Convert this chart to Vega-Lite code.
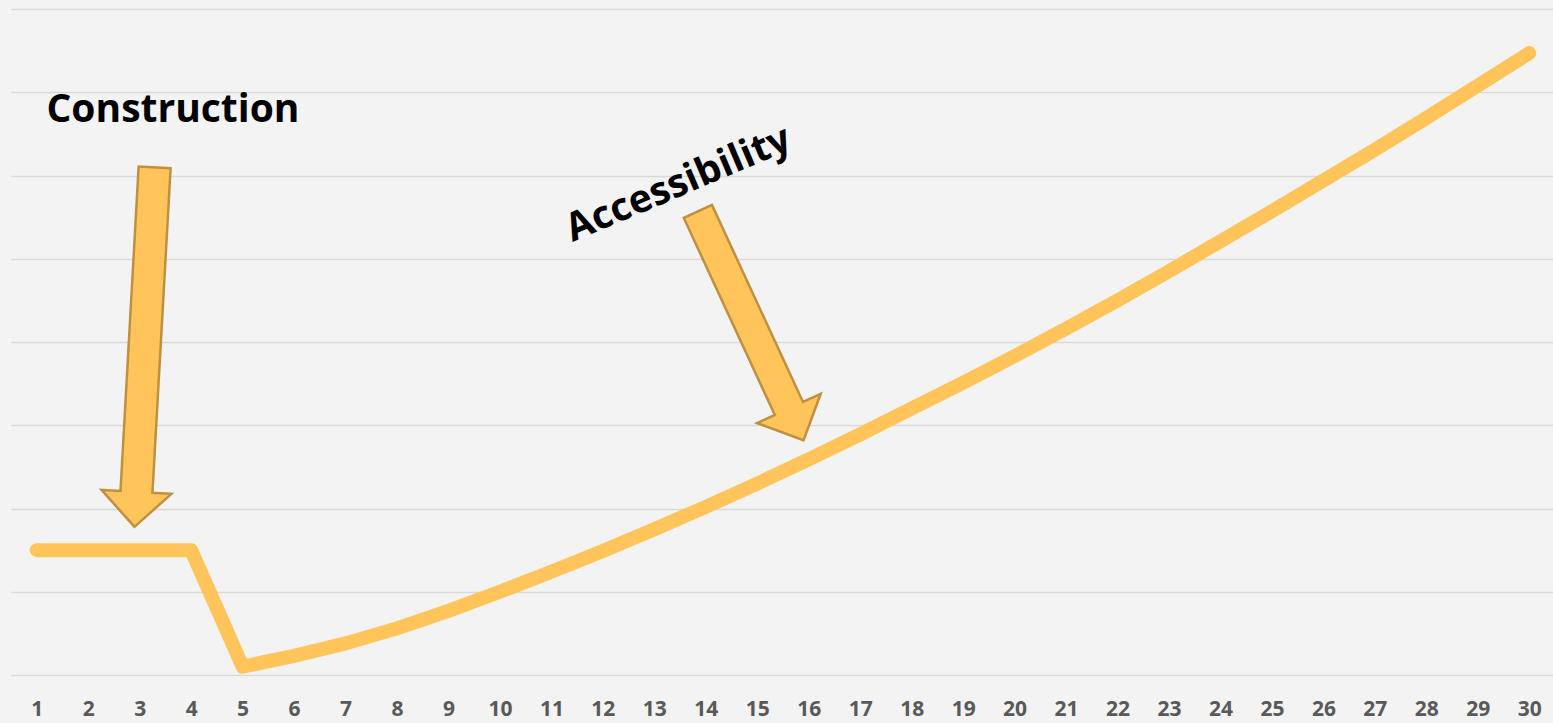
{
  "$schema": "https://vega.github.io/schema/vega-lite/v6.json",
  "width": 1544,
  "height": 666,
  "autosize": {"type": "none"},
  "padding": {"left": 11, "top": 9, "right": 0, "bottom": 48},
  "background": "#f3f3f3",
  "config": {
    "view": {"stroke": null},
    "font": "Open Sans"
  },
  "datasets": {
    "series": [
      {"period": 1, "value": 15.0},
      {"period": 2, "value": 15.0},
      {"period": 3, "value": 15.0},
      {"period": 4, "value": 15.0},
      {"period": 5, "value": 1.0},
      {"period": 6, "value": 2.3},
      {"period": 7, "value": 3.8},
      {"period": 8, "value": 5.6},
      {"period": 9, "value": 7.7},
      {"period": 10, "value": 10.0},
      {"period": 11, "value": 12.4},
      {"period": 12, "value": 14.9},
      {"period": 13, "value": 17.5},
      {"period": 14, "value": 20.2},
      {"period": 15, "value": 23.0},
      {"period": 16, "value": 25.9},
      {"period": 17, "value": 28.9},
      {"period": 18, "value": 32.0},
      {"period": 19, "value": 35.1},
      {"period": 20, "value": 38.3},
      {"period": 21, "value": 41.6},
      {"period": 22, "value": 45.0},
      {"period": 23, "value": 48.5},
      {"period": 24, "value": 52.1},
      {"period": 25, "value": 55.7},
      {"period": 26, "value": 59.4},
      {"period": 27, "value": 63.1},
      {"period": 28, "value": 66.9},
      {"period": 29, "value": 70.8},
      {"period": 30, "value": 74.7}
    ],
    "labels": [
      {"label": "Construction", "period": 1.19, "value": 66.4},
      {"label": "Accessibility", "period": 11.41, "value": 52.0}
    ],
    "pointers": [
      {"label": "Construction", "period": 2.9, "value": 17.8},
      {"label": "Accessibility", "period": 15.9, "value": 28.2}
    ]
  },
  "encoding": {
    "x": {
      "field": "period",
      "type": "quantitative",
      "scale": {"domain": [0.5, 30.5], "nice": false, "zero": false},
      "axis": {
        "title": null,
        "values": [1,2,3,4,5,6,7,8,9,10,11,12,13,14,15,16,17,18,19,20,21,22,23,24,25,26,27,28,29,30],
        "format": "d",
        "grid": false,
        "ticks": false,
        "domain": false,
        "labelFont": "Open Sans",
        "labelFontWeight": "bold",
        "labelFontSize": 21,
        "labelColor": "#595959",
        "labelPadding": 23,
        "labelOverlap": false
      }
    },
    "y": {
      "field": "value",
      "type": "quantitative",
      "scale": {"domain": [0, 80], "nice": false},
      "axis": {
        "title": null,
        "values": [0, 10, 20, 30, 40, 50, 60, 70, 80],
        "labels": false,
        "ticks": false,
        "domain": false,
        "grid": true,
        "gridColor": "#d9d9d9",
        "gridWidth": 1.5
      }
    }
  },
  "layer": [
    {
      "data": {"name": "series"},
      "mark": {
        "type": "line",
        "color": "#ffc55b",
        "strokeWidth": 14,
        "strokeCap": "round",
        "strokeJoin": "round"
      }
    },
    {
      "data": {"name": "pointers"},
      "transform": [{"filter": "datum.label === 'Construction'"}],
      "mark": {
        "type": "point",
        "shape": "M0,0L-0.35,-0.35L-0.16,-0.35L-0.16,-3.6L0.16,-3.6L0.16,-0.35L0.35,-0.35Z",
        "size": 40000,
        "angle": 3.2,
        "filled": true,
        "fill": "#ffc55b",
        "stroke": "#bf9040",
        "strokeWidth": 2.5,
        "opacity": 1
      }
    },
    {
      "data": {"name": "pointers"},
      "transform": [{"filter": "datum.label === 'Accessibility'"}],
      "mark": {
        "type": "point",
        "shape": "M0,0L-0.35,-0.35L-0.155,-0.35L-0.155,-2.52L0.155,-2.52L0.155,-0.35L0.35,-0.35Z",
        "size": 40000,
        "angle": 335.2,
        "filled": true,
        "fill": "#ffc55b",
        "stroke": "#bf9040",
        "strokeWidth": 2.5,
        "opacity": 1
      }
    },
    {
      "data": {"name": "labels"},
      "transform": [{"filter": "datum.label === 'Construction'"}],
      "mark": {
        "type": "text",
        "align": "left",
        "baseline": "alphabetic",
        "font": "Open Sans",
        "fontWeight": "bold",
        "fontSize": 39,
        "color": "#000000"
      },
      "encoding": {"text": {"field": "label"}}
    },
    {
      "data": {"name": "labels"},
      "transform": [{"filter": "datum.label === 'Accessibility'"}],
      "mark": {
        "type": "text",
        "align": "left",
        "baseline": "alphabetic",
        "angle": 337,
        "font": "Open Sans",
        "fontWeight": "bold",
        "fontSize": 39,
        "color": "#000000"
      },
      "encoding": {"text": {"field": "label"}}
    }
  ]
}
